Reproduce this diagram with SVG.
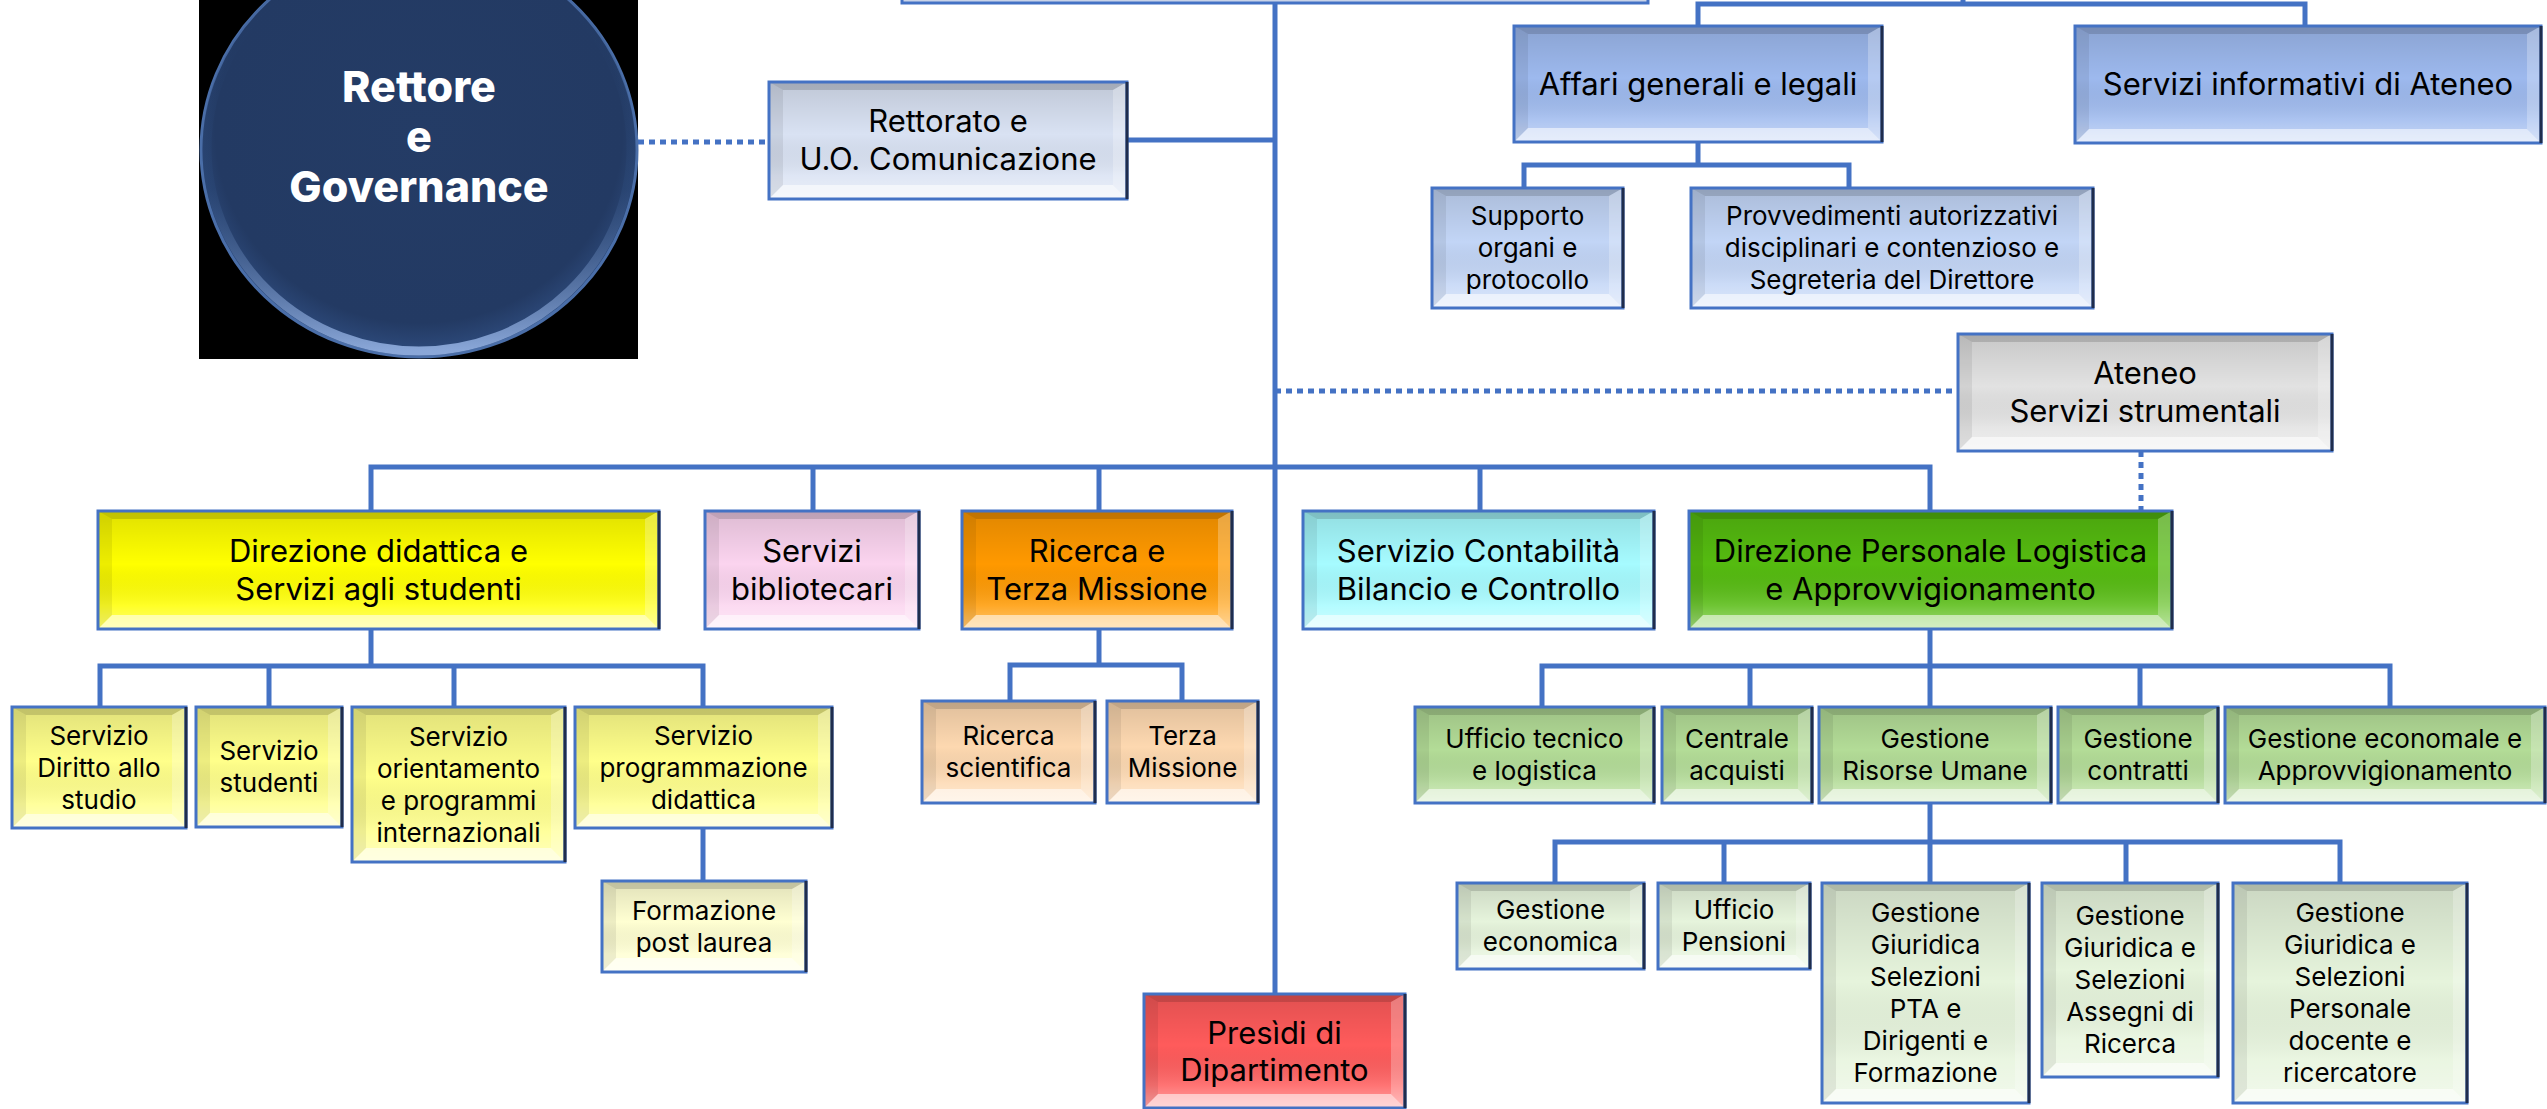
<svg xmlns="http://www.w3.org/2000/svg" width="2547" height="1109" viewBox="0 0 2547 1109">
<defs>
<linearGradient id="face" x1="0" y1="0" x2="0" y2="1">
<stop offset="0" stop-color="#000" stop-opacity="0.12"/>
<stop offset="0.45" stop-color="#000" stop-opacity="0"/>
<stop offset="0.8" stop-color="#fff" stop-opacity="0.15"/>
<stop offset="1" stop-color="#fff" stop-opacity="0.45"/>
</linearGradient>
<radialGradient id="ell" cx="0.5" cy="0.45" r="0.55">
<stop offset="0" stop-color="#243c66"/>
<stop offset="0.85" stop-color="#233a63"/>
<stop offset="1" stop-color="#2f4d80"/>
</radialGradient>
<linearGradient id="rim" x1="0" y1="0" x2="0" y2="1">
<stop offset="0" stop-color="#1f355c" stop-opacity="0"/>
<stop offset="0.6" stop-color="#2c4a7a" stop-opacity="0.4"/>
<stop offset="1" stop-color="#8aa7d8"/>
</linearGradient>
</defs>
<style>
.face{fill:url(#face)}
.bt{fill:#000;opacity:.14}
.bl{fill:#000;opacity:.07}
.br{fill:#fff;opacity:.25}
.bb{fill:#fff;opacity:.55}
.fr{fill:none;stroke:#4472C4;stroke-width:3}
.sh{fill:none;stroke:#1f2d4d;stroke-width:3}
text{font-family:Inter,"Liberation Sans",sans-serif;fill:#000;text-anchor:middle}
.t30{font-size:31px}
.t25{font-size:26px}
.con{fill:none;stroke:#4472C4;stroke-width:5}
.dot{fill:none;stroke:#4472C4;stroke-width:5;stroke-dasharray:6 5}
</style>
<rect width="2547" height="1109" fill="#fff"/>

<g id="connectors">
<path class="con" d="M1275,0V994"/>
<path class="con" d="M1127,140H1275"/>
<path class="con" d="M1698,26V4H2305V26M1963,0V4"/>
<path class="con" d="M1698,142V165M1524,188V165H1849V188"/>
<path class="dot" d="M638,142H769"/>
<path class="dot" d="M1275,391H1958"/>
<path class="dot" d="M2141,451V511"/>
<path class="con" d="M371,511V467H1930V511M813,467V511M1099,467V511M1480,467V511"/>
<path class="con" d="M371,629V666M100,707V666H703V707M269,666V707M454,666V707"/>
<path class="con" d="M703,828V881"/>
<path class="con" d="M1099,629V665M1010,701V665H1182V701"/>
<path class="con" d="M1930,629V707M1542,707V666H2390V707M1750,666V707M2140,666V707"/>
<path class="con" d="M1930,803V883M1555,883V842H2340V883M1724,842V883M2126,842V883"/>
</g>

<g id="n-top-cut">
<rect x="902" y="-50" width="746" height="53" fill="#c9d3e8" stroke="#4472C4" stroke-width="3"/>
</g>

<g id="n-rettore">
<rect x="199" y="0" width="439" height="359" fill="#000"/>
<ellipse cx="419" cy="150" rx="218" ry="207" fill="url(#ell)" stroke="#4a6ea8" stroke-width="3"/>
<ellipse cx="419" cy="148" rx="212" ry="203" fill="none" stroke="url(#rim)" stroke-width="9"/>
<text x="419" y="102" style="font-size:43px;font-weight:800;fill:#fff">Rettore</text>
<text x="419" y="152" style="font-size:43px;font-weight:800;fill:#fff">e</text>
<text x="419" y="202" style="font-size:43px;font-weight:800;fill:#fff">Governance</text>
</g>

<g id="n-rettorato" transform="translate(769,82)">
<rect width="358" height="117" fill="#d9e2f3"/><rect width="358" height="117" class="face"/>
<path class="bt" d="M0,0H358L344,8H14Z"/><path class="bl" d="M0,0L14,8V103L0,117Z"/><path class="br" d="M358,0L344,8V103L358,117Z"/><path class="bb" d="M0,117L14,103H344L358,117Z"/>
<rect width="358" height="117" class="fr"/><path class="sh" d="M358,0V117"/>
<text class="t30" x="179" y="50">Rettorato e</text><text class="t30" x="179" y="88">U.O. Comunicazione</text>
</g>

<g id="n-affari" transform="translate(1514,26)">
<rect width="368" height="116" fill="#9db9ee"/><rect width="368" height="116" class="face"/>
<path class="bt" d="M0,0H368L354,8H14Z"/><path class="bl" d="M0,0L14,8V102L0,116Z"/><path class="br" d="M368,0L354,8V102L368,116Z"/><path class="bb" d="M0,116L14,102H354L368,116Z"/>
<rect width="368" height="116" class="fr"/><path class="sh" d="M368,0V116"/>
<text class="t30" x="184" y="69">Affari generali e legali</text>
</g>

<g id="n-servinf" transform="translate(2075,26)">
<rect width="466" height="117" fill="#9db9ee"/><rect width="466" height="117" class="face"/>
<path class="bt" d="M0,0H466L452,8H14Z"/><path class="bl" d="M0,0L14,8V103L0,117Z"/><path class="br" d="M466,0L452,8V103L466,117Z"/><path class="bb" d="M0,117L14,103H452L466,117Z"/>
<rect width="466" height="117" class="fr"/><path class="sh" d="M466,0V117"/>
<text class="t30" x="233" y="69">Servizi informativi di Ateneo</text>
</g>

<g id="n-supporto" transform="translate(1432,188)">
<rect width="191" height="120" fill="#c2d5f6"/><rect width="191" height="120" class="face"/>
<path class="bt" d="M0,0H191L177,8H14Z"/><path class="bl" d="M0,0L14,8V106L0,120Z"/><path class="br" d="M191,0L177,8V106L191,120Z"/><path class="bb" d="M0,120L14,106H177L191,120Z"/>
<rect width="191" height="120" class="fr"/><path class="sh" d="M191,0V120"/>
<text class="t25" x="95.5" y="37">Supporto</text><text class="t25" x="95.5" y="69">organi e</text><text class="t25" x="95.5" y="101">protocollo</text>
</g>

<g id="n-provv" transform="translate(1691,188)">
<rect width="402" height="120" fill="#c2d5f6"/><rect width="402" height="120" class="face"/>
<path class="bt" d="M0,0H402L388,8H14Z"/><path class="bl" d="M0,0L14,8V106L0,120Z"/><path class="br" d="M402,0L388,8V106L402,120Z"/><path class="bb" d="M0,120L14,106H388L402,120Z"/>
<rect width="402" height="120" class="fr"/><path class="sh" d="M402,0V120"/>
<text class="t25" x="201" y="37">Provvedimenti autorizzativi</text><text class="t25" x="201" y="69">disciplinari e contenzioso e</text><text class="t25" x="201" y="101">Segreteria del Direttore</text>
</g>

<g id="n-ateneo" transform="translate(1958,334)">
<rect width="374" height="117" fill="#e2e2e2"/><rect width="374" height="117" class="face"/>
<path class="bt" d="M0,0H374L360,8H14Z"/><path class="bl" d="M0,0L14,8V103L0,117Z"/><path class="br" d="M374,0L360,8V103L374,117Z"/><path class="bb" d="M0,117L14,103H360L374,117Z"/>
<rect width="374" height="117" class="fr"/><path class="sh" d="M374,0V117"/>
<text class="t30" x="187" y="50">Ateneo</text><text class="t30" x="187" y="88">Servizi strumentali</text>
</g>

<g id="n-dirdid" transform="translate(98,511)">
<rect width="561" height="118" fill="#ffff00"/><rect width="561" height="118" class="face"/>
<path class="bt" d="M0,0H561L547,8H14Z"/><path class="bl" d="M0,0L14,8V104L0,118Z"/><path class="br" d="M561,0L547,8V104L561,118Z"/><path class="bb" d="M0,118L14,104H547L561,118Z"/>
<rect width="561" height="118" class="fr"/><path class="sh" d="M561,0V118"/>
<text class="t30" x="280.5" y="51">Direzione didattica e</text><text class="t30" x="280.5" y="89">Servizi agli studenti</text>
</g>

<g id="n-biblio" transform="translate(705,511)">
<rect width="214" height="118" fill="#fbd4ef"/><rect width="214" height="118" class="face"/>
<path class="bt" d="M0,0H214L200,8H14Z"/><path class="bl" d="M0,0L14,8V104L0,118Z"/><path class="br" d="M214,0L200,8V104L214,118Z"/><path class="bb" d="M0,118L14,104H200L214,118Z"/>
<rect width="214" height="118" class="fr"/><path class="sh" d="M214,0V118"/>
<text class="t30" x="107" y="51">Servizi</text><text class="t30" x="107" y="89">bibliotecari</text>
</g>

<g id="n-ricerca" transform="translate(962,511)">
<rect width="270" height="118" fill="#ff9900"/><rect width="270" height="118" class="face"/>
<path class="bt" d="M0,0H270L256,8H14Z"/><path class="bl" d="M0,0L14,8V104L0,118Z"/><path class="br" d="M270,0L256,8V104L270,118Z"/><path class="bb" d="M0,118L14,104H256L270,118Z"/>
<rect width="270" height="118" class="fr"/><path class="sh" d="M270,0V118"/>
<text class="t30" x="135" y="51">Ricerca e</text><text class="t30" x="135" y="89">Terza Missione</text>
</g>

<g id="n-contab" transform="translate(1303,511)">
<rect width="351" height="118" fill="#a6fbff"/><rect width="351" height="118" class="face"/>
<path class="bt" d="M0,0H351L337,8H14Z"/><path class="bl" d="M0,0L14,8V104L0,118Z"/><path class="br" d="M351,0L337,8V104L351,118Z"/><path class="bb" d="M0,118L14,104H337L351,118Z"/>
<rect width="351" height="118" class="fr"/><path class="sh" d="M351,0V118"/>
<text class="t30" x="175.5" y="51">Servizio Contabilità</text><text class="t30" x="175.5" y="89">Bilancio e Controllo</text>
</g>

<g id="n-dirpers" transform="translate(1689,511)">
<rect width="483" height="118" fill="#55bb10"/><rect width="483" height="118" class="face"/>
<path class="bt" d="M0,0H483L469,8H14Z"/><path class="bl" d="M0,0L14,8V104L0,118Z"/><path class="br" d="M483,0L469,8V104L483,118Z"/><path class="bb" d="M0,118L14,104H469L483,118Z"/>
<rect width="483" height="118" class="fr"/><path class="sh" d="M483,0V118"/>
<text class="t30" x="241.5" y="51">Direzione Personale Logistica</text><text class="t30" x="241.5" y="89">e Approvvigionamento</text>
</g>

<g id="n-diritto" transform="translate(12,707)">
<rect width="174" height="121" fill="#ffff8a"/><rect width="174" height="121" class="face"/>
<path class="bt" d="M0,0H174L160,8H14Z"/><path class="bl" d="M0,0L14,8V107L0,121Z"/><path class="br" d="M174,0L160,8V107L174,121Z"/><path class="bb" d="M0,121L14,107H160L174,121Z"/>
<rect width="174" height="121" class="fr"/><path class="sh" d="M174,0V121"/>
<text class="t25" x="87" y="38">Servizio</text><text class="t25" x="87" y="70">Diritto allo</text><text class="t25" x="87" y="102">studio</text>
</g>

<g id="n-studenti" transform="translate(196,707)">
<rect width="146" height="120" fill="#ffff8a"/><rect width="146" height="120" class="face"/>
<path class="bt" d="M0,0H146L132,8H14Z"/><path class="bl" d="M0,0L14,8V106L0,120Z"/><path class="br" d="M146,0L132,8V106L146,120Z"/><path class="bb" d="M0,120L14,106H132L146,120Z"/>
<rect width="146" height="120" class="fr"/><path class="sh" d="M146,0V120"/>
<text class="t25" x="73" y="53">Servizio</text><text class="t25" x="73" y="85">studenti</text>
</g>

<g id="n-orient" transform="translate(352,707)">
<rect width="213" height="155" fill="#ffff8a"/><rect width="213" height="155" class="face"/>
<path class="bt" d="M0,0H213L199,8H14Z"/><path class="bl" d="M0,0L14,8V141L0,155Z"/><path class="br" d="M213,0L199,8V141L213,155Z"/><path class="bb" d="M0,155L14,141H199L213,155Z"/>
<rect width="213" height="155" class="fr"/><path class="sh" d="M213,0V155"/>
<text class="t25" x="106.5" y="39">Servizio</text><text class="t25" x="106.5" y="71">orientamento</text><text class="t25" x="106.5" y="103">e programmi</text><text class="t25" x="106.5" y="135">internazionali</text>
</g>

<g id="n-program" transform="translate(575,707)">
<rect width="257" height="121" fill="#ffff8a"/><rect width="257" height="121" class="face"/>
<path class="bt" d="M0,0H257L243,8H14Z"/><path class="bl" d="M0,0L14,8V107L0,121Z"/><path class="br" d="M257,0L243,8V107L257,121Z"/><path class="bb" d="M0,121L14,107H243L257,121Z"/>
<rect width="257" height="121" class="fr"/><path class="sh" d="M257,0V121"/>
<text class="t25" x="128.5" y="38">Servizio</text><text class="t25" x="128.5" y="70">programmazione</text><text class="t25" x="128.5" y="102">didattica</text>
</g>

<g id="n-formaz" transform="translate(602,881)">
<rect width="204" height="91" fill="#ffffd2"/><rect width="204" height="91" class="face"/>
<path class="bt" d="M0,0H204L190,8H14Z"/><path class="bl" d="M0,0L14,8V77L0,91Z"/><path class="br" d="M204,0L190,8V77L204,91Z"/><path class="bb" d="M0,91L14,77H190L204,91Z"/>
<rect width="204" height="91" class="fr"/><path class="sh" d="M204,0V91"/>
<text class="t25" x="102" y="39">Formazione</text><text class="t25" x="102" y="71">post laurea</text>
</g>

<g id="n-ricsci" transform="translate(922,701)">
<rect width="173" height="102" fill="#fdd8b0"/><rect width="173" height="102" class="face"/>
<path class="bt" d="M0,0H173L159,8H14Z"/><path class="bl" d="M0,0L14,8V88L0,102Z"/><path class="br" d="M173,0L159,8V88L173,102Z"/><path class="bb" d="M0,102L14,88H159L173,102Z"/>
<rect width="173" height="102" class="fr"/><path class="sh" d="M173,0V102"/>
<text class="t25" x="86.5" y="44">Ricerca</text><text class="t25" x="86.5" y="76">scientifica</text>
</g>

<g id="n-terza" transform="translate(1107,701)">
<rect width="151" height="102" fill="#fdd8b0"/><rect width="151" height="102" class="face"/>
<path class="bt" d="M0,0H151L137,8H14Z"/><path class="bl" d="M0,0L14,8V88L0,102Z"/><path class="br" d="M151,0L137,8V88L151,102Z"/><path class="bb" d="M0,102L14,88H137L151,102Z"/>
<rect width="151" height="102" class="fr"/><path class="sh" d="M151,0V102"/>
<text class="t25" x="75.5" y="44">Terza</text><text class="t25" x="75.5" y="76">Missione</text>
</g>

<g id="n-ufftec" transform="translate(1415,707)">
<rect width="239" height="96" fill="#b3dc97"/><rect width="239" height="96" class="face"/>
<path class="bt" d="M0,0H239L225,8H14Z"/><path class="bl" d="M0,0L14,8V82L0,96Z"/><path class="br" d="M239,0L225,8V82L239,96Z"/><path class="bb" d="M0,96L14,82H225L239,96Z"/>
<rect width="239" height="96" class="fr"/><path class="sh" d="M239,0V96"/>
<text class="t25" x="119.5" y="41">Ufficio tecnico</text><text class="t25" x="119.5" y="73">e logistica</text>
</g>

<g id="n-centrale" transform="translate(1662,707)">
<rect width="150" height="96" fill="#b3dc97"/><rect width="150" height="96" class="face"/>
<path class="bt" d="M0,0H150L136,8H14Z"/><path class="bl" d="M0,0L14,8V82L0,96Z"/><path class="br" d="M150,0L136,8V82L150,96Z"/><path class="bb" d="M0,96L14,82H136L150,96Z"/>
<rect width="150" height="96" class="fr"/><path class="sh" d="M150,0V96"/>
<text class="t25" x="75" y="41">Centrale</text><text class="t25" x="75" y="73">acquisti</text>
</g>

<g id="n-gru" transform="translate(1819,707)">
<rect width="232" height="96" fill="#b3dc97"/><rect width="232" height="96" class="face"/>
<path class="bt" d="M0,0H232L218,8H14Z"/><path class="bl" d="M0,0L14,8V82L0,96Z"/><path class="br" d="M232,0L218,8V82L232,96Z"/><path class="bb" d="M0,96L14,82H218L232,96Z"/>
<rect width="232" height="96" class="fr"/><path class="sh" d="M232,0V96"/>
<text class="t25" x="116" y="41">Gestione</text><text class="t25" x="116" y="73">Risorse Umane</text>
</g>

<g id="n-contratti" transform="translate(2058,707)">
<rect width="160" height="96" fill="#b3dc97"/><rect width="160" height="96" class="face"/>
<path class="bt" d="M0,0H160L146,8H14Z"/><path class="bl" d="M0,0L14,8V82L0,96Z"/><path class="br" d="M160,0L146,8V82L160,96Z"/><path class="bb" d="M0,96L14,82H146L160,96Z"/>
<rect width="160" height="96" class="fr"/><path class="sh" d="M160,0V96"/>
<text class="t25" x="80" y="41">Gestione</text><text class="t25" x="80" y="73">contratti</text>
</g>

<g id="n-economale" transform="translate(2225,707)">
<rect width="320" height="96" fill="#b3dc97"/><rect width="320" height="96" class="face"/>
<path class="bt" d="M0,0H320L306,8H14Z"/><path class="bl" d="M0,0L14,8V82L0,96Z"/><path class="br" d="M320,0L306,8V82L320,96Z"/><path class="bb" d="M0,96L14,82H306L320,96Z"/>
<rect width="320" height="96" class="fr"/><path class="sh" d="M320,0V96"/>
<text class="t25" x="160" y="41">Gestione economale e</text><text class="t25" x="160" y="73">Approvvigionamento</text>
</g>

<g id="n-geco" transform="translate(1457,883)">
<rect width="187" height="86" fill="#e6f4dc"/><rect width="187" height="86" class="face"/>
<path class="bt" d="M0,0H187L173,8H14Z"/><path class="bl" d="M0,0L14,8V72L0,86Z"/><path class="br" d="M187,0L173,8V72L187,86Z"/><path class="bb" d="M0,86L14,72H173L187,86Z"/>
<rect width="187" height="86" class="fr"/><path class="sh" d="M187,0V86"/>
<text class="t25" x="93.5" y="36">Gestione</text><text class="t25" x="93.5" y="68">economica</text>
</g>

<g id="n-pensioni" transform="translate(1658,883)">
<rect width="152" height="86" fill="#e6f4dc"/><rect width="152" height="86" class="face"/>
<path class="bt" d="M0,0H152L138,8H14Z"/><path class="bl" d="M0,0L14,8V72L0,86Z"/><path class="br" d="M152,0L138,8V72L152,86Z"/><path class="bb" d="M0,86L14,72H138L152,86Z"/>
<rect width="152" height="86" class="fr"/><path class="sh" d="M152,0V86"/>
<text class="t25" x="76" y="36">Ufficio</text><text class="t25" x="76" y="68">Pensioni</text>
</g>

<g id="n-ggpta" transform="translate(1822,883)">
<rect width="207" height="220" fill="#e6f4dc"/><rect width="207" height="220" class="face"/>
<path class="bt" d="M0,0H207L193,8H14Z"/><path class="bl" d="M0,0L14,8V206L0,220Z"/><path class="br" d="M207,0L193,8V206L207,220Z"/><path class="bb" d="M0,220L14,206H193L207,220Z"/>
<rect width="207" height="220" class="fr"/><path class="sh" d="M207,0V220"/>
<text class="t25" x="103.5" y="39">Gestione</text><text class="t25" x="103.5" y="71">Giuridica</text><text class="t25" x="103.5" y="103">Selezioni</text><text class="t25" x="103.5" y="135">PTA e</text><text class="t25" x="103.5" y="167">Dirigenti e</text><text class="t25" x="103.5" y="199">Formazione</text>
</g>

<g id="n-ggass" transform="translate(2042,883)">
<rect width="176" height="194" fill="#e6f4dc"/><rect width="176" height="194" class="face"/>
<path class="bt" d="M0,0H176L162,8H14Z"/><path class="bl" d="M0,0L14,8V180L0,194Z"/><path class="br" d="M176,0L162,8V180L176,194Z"/><path class="bb" d="M0,194L14,180H162L176,194Z"/>
<rect width="176" height="194" class="fr"/><path class="sh" d="M176,0V194"/>
<text class="t25" x="88" y="42">Gestione</text><text class="t25" x="88" y="74">Giuridica e</text><text class="t25" x="88" y="106">Selezioni</text><text class="t25" x="88" y="138">Assegni di</text><text class="t25" x="88" y="170">Ricerca</text>
</g>

<g id="n-ggdoc" transform="translate(2233,883)">
<rect width="234" height="220" fill="#e6f4dc"/><rect width="234" height="220" class="face"/>
<path class="bt" d="M0,0H234L220,8H14Z"/><path class="bl" d="M0,0L14,8V206L0,220Z"/><path class="br" d="M234,0L220,8V206L234,220Z"/><path class="bb" d="M0,220L14,206H220L234,220Z"/>
<rect width="234" height="220" class="fr"/><path class="sh" d="M234,0V220"/>
<text class="t25" x="117" y="39">Gestione</text><text class="t25" x="117" y="71">Giuridica e</text><text class="t25" x="117" y="103">Selezioni</text><text class="t25" x="117" y="135">Personale</text><text class="t25" x="117" y="167">docente e</text><text class="t25" x="117" y="199">ricercatore</text>
</g>

<g id="n-presidi" transform="translate(1144,994)">
<rect width="261" height="114" fill="#ff5b5b"/><rect width="261" height="114" class="face"/>
<path class="bt" d="M0,0H261L247,8H14Z"/><path class="bl" d="M0,0L14,8V100L0,114Z"/><path class="br" d="M261,0L247,8V100L261,114Z"/><path class="bb" d="M0,114L14,100H247L261,114Z"/>
<rect width="261" height="114" class="fr"/><path class="sh" d="M261,0V114"/>
<text class="t30" x="130.5" y="50">Presìdi di</text><text class="t30" x="130.5" y="87">Dipartimento</text>
</g>
</svg>
